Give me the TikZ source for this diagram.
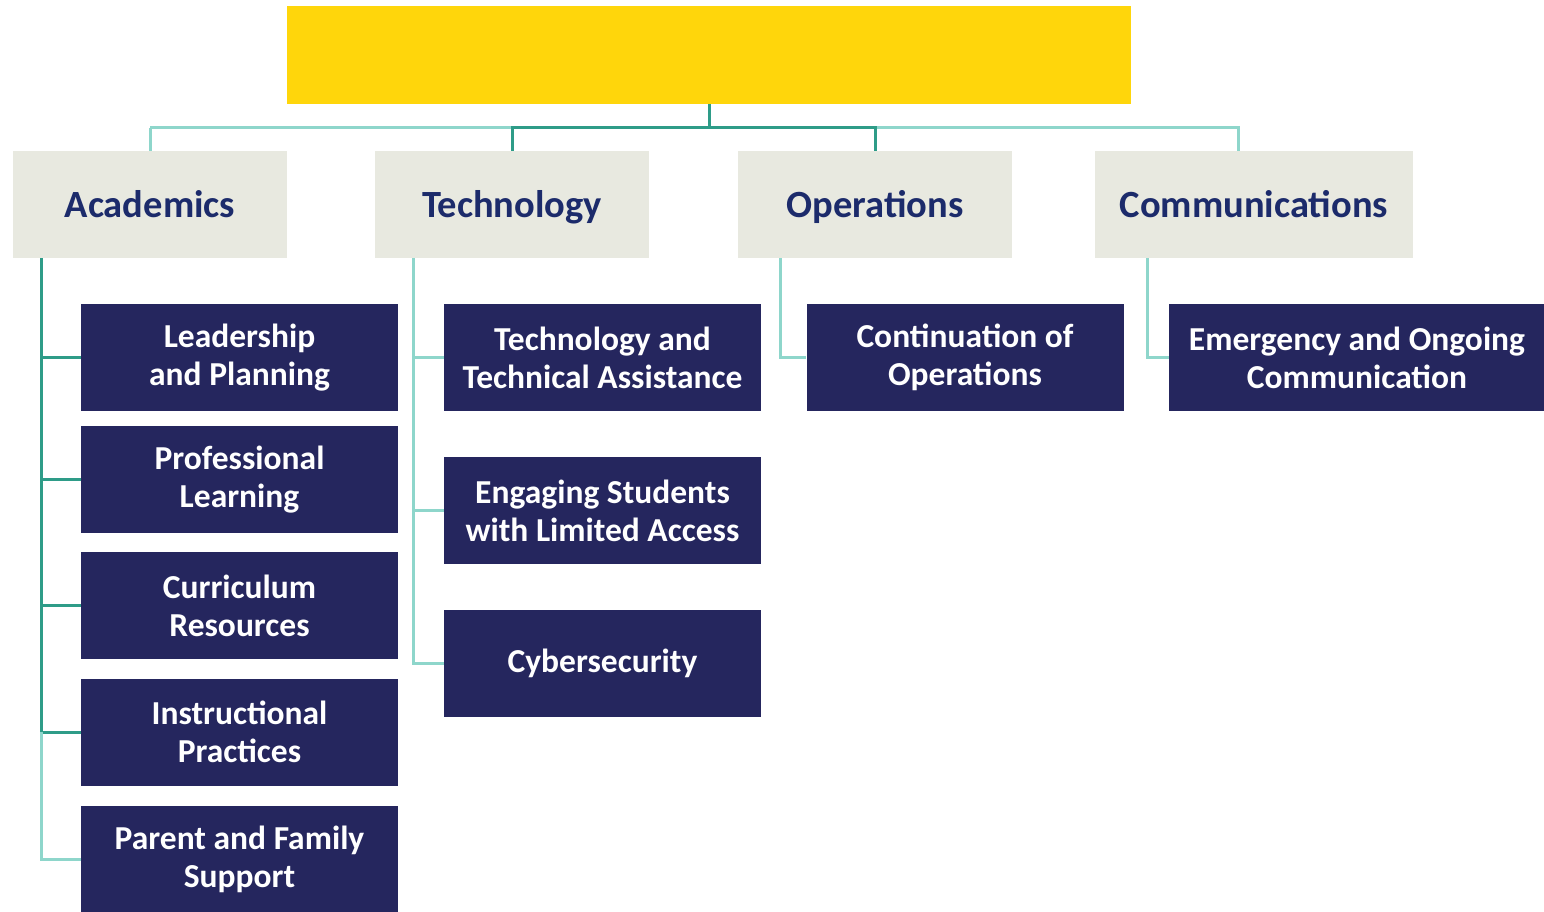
\documentclass[tikz,border=0pt]{standalone}
\usepackage{fontspec}
\setmainfont{Carlito}
\definecolor{gold}{HTML}{FFD60B}
\definecolor{paper}{HTML}{E8E9E0}
\definecolor{navy}{HTML}{25265E}
\definecolor{ink}{HTML}{1C2B6B}
\definecolor{tealD}{HTML}{2E9C88}
\definecolor{tealL}{HTML}{8ED6CB}
\begin{document}
\begin{tikzpicture}[x=1pt,y=-1pt,
  rootbox/.style={fill=gold, draw=none, minimum width=844pt, minimum height=98pt, inner sep=0pt},
  catbox/.style={fill=paper, draw=none, minimum width=274pt, minimum height=107pt, inner sep=0pt,
    text=ink, text height=31pt, text depth=4pt, font=\fontsize{38.5}{42}\selectfont\bfseries},
  itembox/.style={fill=navy, draw=none, minimum width=317pt, minimum height=107pt, inner sep=0pt,
    text=white, align=center, font=\fontsize{33.5}{38}\selectfont\bfseries},
  link/.style={line width=3pt, tealL},
  linkD/.style={line width=3pt, tealD}]
\useasboundingbox (0,0) rectangle (1544,912);

% top banner
\node[rootbox] (root) at (709,55) {};

% category headings
\node[catbox] (acad) at (150,204.5) {Academics};
\node[catbox] (tech) at (512,204.5) {Technology};
\node[catbox] (ops)  at (875,204.5) {Operations};
\node[catbox, minimum width=318pt] (comm) at (1254,204.5) {Communications};

% Academics items
\node[itembox] (a1) at (239.5,357.5) {Leadership\\and Planning};
\node[itembox] (a2) at (239.5,479.5) {Professional\\Learning};
\node[itembox] (a3) at (239.5,605.5) {Curriculum\\Resources};
\node[itembox] (a4) at (239.5,732) {Instructional\\Practices};
\node[itembox] (a5) at (239.5,859) {Parent and Family\\Support};

% Technology items
\node[itembox] (t1) at (602.5,357.5) {Technology and\\Technical Assistance};
\node[itembox] (t2) at (602.5,510.5) {Engaging Students\\with Limited Access};
\node[itembox] (t3) at (602.5,663.5) {Cybersecurity};

% Operations and Communications items
\node[itembox] (o1) at (965,357.5) {Continuation of\\Operations};
\node[itembox, minimum width=376pt] (c1) at (1357,357.5) {Emergency and Ongoing\\Communication};

% bus from the banner to the headings
\draw[link] (root.south -| acad.north) ++(0,24) -| (acad.north);
\draw[link] (acad.north) ++(0,-23) -- ++(363,0);
\draw[link] (ops.north) ++(0,-23) -| ([xshift=-16pt]comm.north);
\draw[linkD] (tech.north) -- ++(0,-23) -| (ops.north);
\draw[linkD] (root.south) -- ++(0,24);

% Academics branch
\draw[linkD] ([xshift=-109pt]acad.south) |- (a4.west);
\draw[linkD] ([xshift=-109pt]acad.south) |- (a1.west);
\draw[linkD] ([xshift=-109pt]acad.south) |- (a2.west);
\draw[linkD] ([xshift=-109pt]acad.south) |- (a3.west);
\draw[link] (a4.west -| 41,0) |- (a5.west);

% Technology branch
\draw[link] ([xshift=-99pt]tech.south) |- (t1.west);
\draw[link] ([xshift=-99pt]tech.south) |- (t2.west);
\draw[link] ([xshift=-99pt]tech.south) |- (t3.west);

% Operations and Communications branches
\draw[link] ([xshift=-95pt]ops.south) |- (o1.west);
\draw[link] ([xshift=-107pt]comm.south) |- (c1.west);
\end{tikzpicture}
\end{document}
